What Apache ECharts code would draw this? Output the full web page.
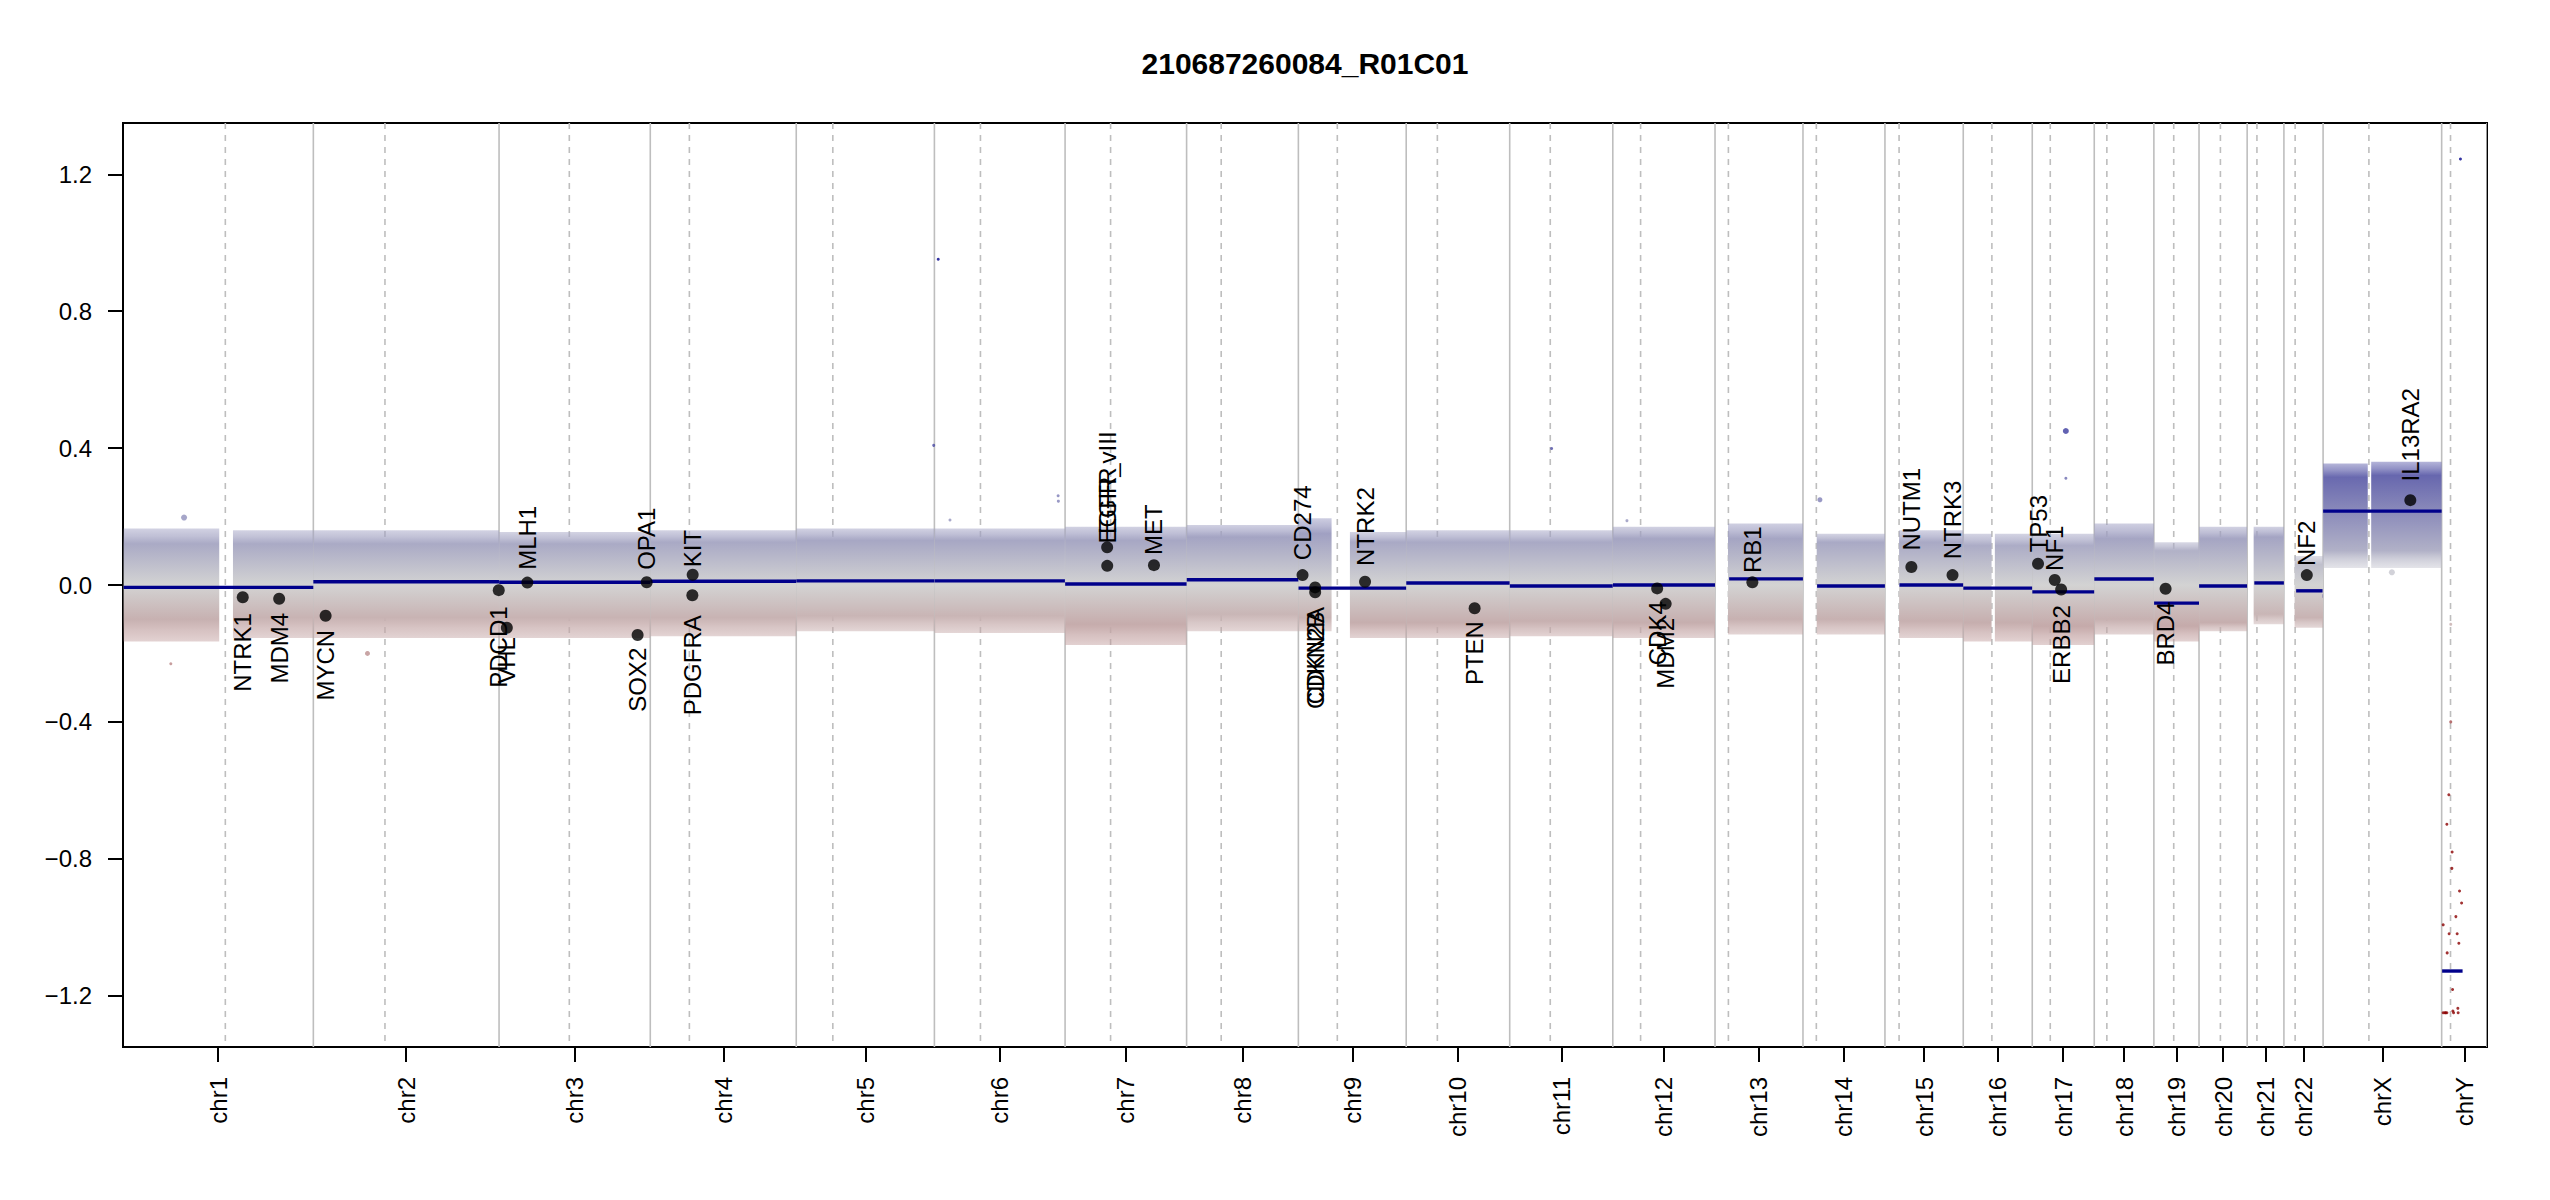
<!DOCTYPE html>
<html>
<head>
<meta charset="utf-8">
<title>210687260084_R01C01</title>
<script src="https://cdn.jsdelivr.net/npm/echarts@6/dist/echarts.min.js"></script>
<style>
html,body{margin:0;padding:0;background:#ffffff;}
#chart{width:2550px;height:1200px;}
</style>
</head>
<body>
<div id="chart"></div>
<script>
// ---------------- data ----------------
const titleText = '210687260084_R01C01';

const chromosomes = ['chr1','chr2','chr3','chr4','chr5','chr6','chr7','chr8','chr9','chr10','chr11','chr12',
  'chr13','chr14','chr15','chr16','chr17','chr18','chr19','chr20','chr21','chr22','chrX','chrY'];
const chromSizesMb = [249.250621,243.199373,198.022430,191.154276,180.915260,171.115067,159.138663,146.364022,
  141.213431,135.534747,135.006516,133.851895,115.169878,107.349540,102.531392,90.354753,81.195210,78.077248,
  59.128983,63.025520,48.129895,51.304566,155.270560,59.373566];
const centromereMb = [134.0,93.8,92.0,51.2,47.9,60.3,59.6,45.3,51.0,40.8,53.1,36.4,
  17.5,17.5,18.5,37.5,23.6,16.5,26.0,28.0,12.8,14.7,60.0,11.6];

const yTickValues = [-1.2,-0.8,-0.4,0,0.4,0.8,1.2];

// segments (Mb within chromosome, log2 ratio)
const segChr   = ['chr1','chr2','chr3','chr4','chr5','chr6','chr7','chr8','chr9','chr10','chr11','chr12',
  'chr13','chr14','chr15','chr16','chr17','chr18','chr19','chr20','chr21','chr22','chr22','chrX','chrY'];
const segStart = [0.8,0.0,0.1,0.1,0.1,0.2,0.1,0.2,0.2,0.1,0.2,0.2,18.5,18.5,19.0,0.1,0.1,0.1,0.3,0.1,9.4,16.0,50.9,0.1,0.6];
const segEnd   = [249.2,243.1,197.9,191.0,180.8,170.9,159.1,146.3,141.1,135.4,134.9,133.8,115.1,107.3,102.4,90.2,
  81.1,78.0,59.1,62.9,48.1,50.6,51.2,155.2,27.4];
const segValue = [-0.007,0.0096,0.008,0.011,0.012,0.012,0.003,0.0155,-0.009,0.006,-0.003,0.0,
  0.018,-0.003,0.0,-0.009,-0.020,0.0175,-0.053,-0.003,0.006,-0.017,-0.032,0.216,-1.128];

// bin cloud envelopes per chromosome (arm): dense core and sparse fringe
const cloudChr     = ['chr1','chr1','chr2','chr3','chr4','chr5','chr6','chr7','chr8','chr9','chr9','chr10','chr11',
  'chr12','chr13','chr14','chr15','chr16','chr16','chr17','chr18','chr19','chr20','chr21','chr22','chrX','chrX'];
const cloudStart   = [0.8,144.0,0.0,0.1,0.1,0.1,0.2,0.1,0.2,0.2,67.5,0.1,0.2,0.2,17.0,18.0,18.5,0.1,41.4,0.1,0.1,0.3,0.1,8.5,14.0,0.1,63.0];
const cloudEnd     = [126.0,249.2,243.1,197.9,191.0,180.8,170.9,159.1,146.3,43.5,141.1,135.4,134.9,133.8,115.1,107.3,
  102.4,37.1,90.2,81.1,78.0,59.1,62.9,48.1,51.3,58.5,155.2];
const cloudCoreLo  = [-0.10,-0.095,-0.095,-0.095,-0.095,-0.09,-0.09,-0.115,-0.085,-0.095,-0.11,-0.11,-0.105,
  -0.11,-0.10,-0.10,-0.105,-0.11,-0.11,-0.12,-0.10,-0.12,-0.11,-0.085,-0.095,0.10,0.10];
const cloudCoreHi  = [0.12,0.12,0.12,0.12,0.125,0.13,0.13,0.13,0.14,0.15,0.125,0.125,0.125,
  0.135,0.135,0.125,0.125,0.115,0.115,0.115,0.135,0.10,0.135,0.14,0.06,0.315,0.32];
const cloudFringeLo= [-0.165,-0.155,-0.155,-0.155,-0.15,-0.135,-0.14,-0.175,-0.135,-0.135,-0.155,-0.155,-0.15,
  -0.155,-0.145,-0.145,-0.155,-0.165,-0.165,-0.175,-0.145,-0.165,-0.135,-0.115,-0.125,0.05,0.05];
const cloudFringeHi= [0.165,0.16,0.16,0.155,0.16,0.165,0.165,0.17,0.175,0.195,0.155,0.16,0.16,
  0.17,0.18,0.15,0.16,0.15,0.15,0.15,0.18,0.125,0.17,0.17,0.085,0.355,0.36];

// individual outlying bins
const outlierChr   = ['chr1','chr1','chr2','chr5','chr6','chr6','chr6','chr6','chr11','chr12','chr14','chr17','chr17','chrX',
  'chrY','chrY','chrY','chrY','chrY','chrY','chrY','chrY','chrY','chrY','chrY','chrY','chrY','chrY','chrY','chrY','chrY',
  'chrY','chrY','chrY','chrY','chrY','chrY','chrY'];
const outlierPosMb = [80.0,62.6,70.9,180.0,5.0,20.4,162.0,162.3,54.9,18.5,22.2,44.0,44.0,90.1,
  24.6,11.9,11.9,9.4,6.8,13.7,13.4,23.4,26.1,18.6,2.0,9.8,20.3,22.5,7.2,14.3,21.2,14.7,
  2.0,4.2,6.8,15.6,21.6,5.2];
const outlierValue = [0.197,-0.23,-0.20,0.408,0.952,0.19,0.261,0.245,0.399,0.188,0.249,0.45,0.312,0.037,
  1.245,-0.115,-0.40,-0.613,-0.699,-0.780,-0.828,-0.894,-0.929,-0.969,-0.993,-1.019,-1.019,-1.047,-1.075,-1.182,-1.237,-1.245,
  -1.25,-1.25,-1.25,-1.25,-1.25,-1.25];
const outlierSize  = [6,3,5,3,3,3,3,3,3,3,5,6,3,6,
  3,3,3,3,3,3,3,3,3,3,3,3,3,3,3,3,3,3,3,3,3,3,3,3];

// detail genes
const geneNames = ['NTRK1','MDM4','MYCN','PDCD1','VHL','MLH1','SOX2','OPA1','PDGFRA','KIT','EGFR','EGFR_vIII','MET',
  'CD274','CDKN2A','CDKN2B','NTRK2','PTEN','CDK4','MDM2','RB1','NUTM1','NTRK3','TP53','NF1','ERBB2','BRD4','NF2','IL13RA2'];
const geneChr   = ['chr1','chr1','chr2','chr2','chr3','chr3','chr3','chr3','chr4','chr4','chr7','chr7','chr7',
  'chr9','chr9','chr9','chr9','chr10','chr12','chr12','chr13','chr15','chr15','chr17','chr17','chr17','chr19','chr22','chrX'];
const genePosMb = [156.8,204.5,16.08,242.8,10.18,37.03,181.43,193.33,55.1,55.52,55.1,55.2,116.4,
  5.46,21.97,22.0,87.3,89.6,58.1,69.2,48.9,34.6,88.5,7.57,29.5,37.85,15.35,29.99,114.24];
const geneValue = [-0.036,-0.040,-0.090,-0.015,-0.125,0.007,-0.146,0.008,-0.030,0.030,0.110,0.056,0.058,
  0.029,-0.007,-0.021,0.0097,-0.068,-0.010,-0.055,0.0077,0.0525,0.029,0.062,0.0146,-0.013,-0.011,0.029,0.248];

// ---------------- styles ----------------
const FONT = '"Liberation Sans", Arial, Helvetica, sans-serif';
const rampColors = ['#8b0000','#8b0000','#d3d3d3','#00008b','#00008b'];
const rampRange = [-1.25, 1.25];
const yRange = [-1.35, 1.35];
const fringeAlpha = 0.45;

// ---------------- derived ----------------
const chromOffset = {};
let acc = 0;
chromosomes.forEach((c, i) => { chromOffset[c] = acc; acc += chromSizesMb[i]; });
const totalMb = acc;
const chromMid = chromosomes.map((c, i) => chromOffset[c] + chromSizesMb[i] / 2);
const g = (chr, mb) => chromOffset[chr] + mb;

const vlineData = [];
chromosomes.forEach((c, i) => {
  vlineData.push([chromOffset[c] + chromSizesMb[i], 0]);
  vlineData.push([chromOffset[c] + centromereMb[i], 1]);
});
const cloudData = cloudChr.map((c, i) => [g(c, cloudStart[i]), g(c, cloudEnd[i]),
  cloudCoreLo[i], cloudCoreHi[i], cloudFringeLo[i], cloudFringeHi[i]]);
const segData = segChr.map((c, i) => [g(c, segStart[i]), g(c, segEnd[i]), segValue[i]]);
const outlierData = outlierChr.map((c, i) => [g(c, outlierPosMb[i]), outlierValue[i], outlierSize[i]]);
const geneData = geneChr.map((c, i) => [g(c, genePosMb[i]), geneValue[i], i]);

const measureCtx = document.createElement('canvas').getContext('2d');
measureCtx.font = '24px ' + FONT;
const textWidth = (t) => measureCtx.measureText(t).width;

const rampAt = (v) => {
  const t = Math.min(1, Math.max(0, (v - rampRange[0]) / (rampRange[1] - rampRange[0])));
  return echarts.color.lerp(t, rampColors);
};

function nameForMid(v) {
  let best = 0, bd = Infinity;
  chromMid.forEach((m, i) => { const d = Math.abs(m - v); if (d < bd) { bd = d; best = i; } });
  return chromosomes[best];
}
function fmtY(v) {
  const s = Math.abs(v).toFixed(1);
  return v < -1e-9 ? '\u2212' + s : s;
}

const chart = echarts.init(document.getElementById('chart'), null, {renderer: 'svg', width: 2550, height: 1200});

const option = {
  animation: false,
  backgroundColor: '#ffffff',
  graphic: [{
    type: 'text', x: 1305, y: 63, silent: true,
    style: {text: titleText, font: 'bold 30px ' + FONT, fill: '#000',
      align: 'center', verticalAlign: 'middle', textAlign: 'center', textVerticalAlign: 'middle'}
  }],
  grid: {left: 123, right: 63, top: 123, bottom: 153, show: true, borderColor: '#000', borderWidth: 2, backgroundColor: 'transparent'},
  xAxis: {
    type: 'value', min: 0, max: totalMb,
    axisLine: {show: false, onZero: false}, splitLine: {show: false},
    axisTick: {show: true, customValues: chromMid, length: 15, lineStyle: {color: '#000', width: 2}},
    axisLabel: {customValues: chromMid, rotate: 90, margin: 30, formatter: (v) => nameForMid(v),
      fontSize: 24, color: '#000', fontFamily: FONT}
  },
  yAxis: {
    type: 'value', min: yRange[0], max: yRange[1],
    axisLine: {show: false, onZero: false}, splitLine: {show: false},
    axisTick: {show: true, customValues: yTickValues, length: 15, lineStyle: {color: '#000', width: 2}},
    axisLabel: {customValues: yTickValues, margin: 31, formatter: (v) => fmtY(v),
      fontSize: 24, color: '#000', fontFamily: FONT}
  },
  visualMap: {
    show: false, type: 'continuous', dimension: 1, seriesIndex: 2,
    min: rampRange[0], max: rampRange[1], inRange: {color: rampColors}
  },
  series: [
    {
      type: 'custom', name: 'chromosome lines', silent: true, clip: true, z: 1,
      data: vlineData, encode: {x: 0, y: 1},
      renderItem: (params, api) => {
        const x = api.value(0);
        const p0 = api.coord([x, yRange[1]]), p1 = api.coord([x, yRange[0]]);
        return {type: 'line', shape: {x1: p0[0], y1: p0[1], x2: p1[0], y2: p1[1]},
          style: {stroke: '#bebebe', lineWidth: 1.6, lineDash: api.value(1) === 1 ? [6, 6] : null}};
      }
    },
    {
      type: 'custom', name: 'bins', silent: true, clip: true, z: 2,
      data: cloudData, encode: {x: [0, 1], y: [2, 3, 4, 5]},
      renderItem: (params, api) => {
        const x0 = api.value(0), x1 = api.value(1);
        const cLo = api.value(2), cHi = api.value(3), fLo = api.value(4), fHi = api.value(5);
        const pTop = api.coord([x0, fHi]), pBot = api.coord([x1, fLo]);
        const span = fHi - fLo;
        const vals = [fHi, (fHi + cHi) / 2, cHi];
        if (cLo < 0 && cHi > 0) vals.push(0);
        vals.push(cLo, (cLo + fLo) / 2, fLo);
        const stops = vals.map(v => {
          let a = 1;
          if (v > cHi) a = fringeAlpha + (1 - fringeAlpha) * (fHi - v) / (fHi - cHi) * 0.85;
          if (v < cLo) a = fringeAlpha + (1 - fringeAlpha) * (v - fLo) / (cLo - fLo) * 0.85;
          return {offset: (fHi - v) / span, color: echarts.color.modifyAlpha(rampAt(v), a)};
        });
        return {type: 'rect', shape: {x: pTop[0], y: pTop[1], width: pBot[0] - pTop[0], height: pBot[1] - pTop[1]},
          style: {fill: new echarts.graphic.LinearGradient(0, 0, 0, 1, stops)}};
      }
    },
    {
      type: 'scatter', name: 'outlier bins', silent: true, z: 3,
      data: outlierData, symbol: 'circle',
      symbolSize: (val) => val[2]
    },
    {
      type: 'custom', name: 'segments', silent: true, clip: true, z: 4,
      data: segData, encode: {x: [0, 1], y: 2},
      renderItem: (params, api) => {
        const v = api.value(2);
        const p0 = api.coord([api.value(0), v]), p1 = api.coord([api.value(1), v]);
        return {type: 'line', shape: {x1: p0[0], y1: p0[1], x2: p1[0], y2: p1[1]},
          style: {stroke: '#00008b', lineWidth: 3.4}};
      }
    },
    {
      type: 'scatter', name: 'genes', silent: true, z: 5,
      data: geneData.map(d => [d[0], d[1]]), symbol: 'circle', symbolSize: 12,
      itemStyle: {color: '#000'}
    },
    {
      type: 'custom', name: 'gene labels', silent: true, clip: false, z: 6,
      data: geneData, encode: {x: 0, y: 1},
      renderItem: (params, api) => {
        const v = api.value(1);
        const name = geneNames[api.value(2)];
        const p = api.coord([api.value(0), v]);
        const off = 0.2 * textWidth(name);
        const above = v > 0;
        return {type: 'text', x: p[0], y: above ? p[1] - off : p[1] + off, rotation: Math.PI / 2,
          style: {text: name, font: '24px ' + FONT, fill: '#000',
            align: above ? 'left' : 'right', textAlign: above ? 'left' : 'right',
            verticalAlign: 'middle', textVerticalAlign: 'middle'}};
      }
    }
  ]
};
chart.setOption(option);
</script>
</body>
</html>
